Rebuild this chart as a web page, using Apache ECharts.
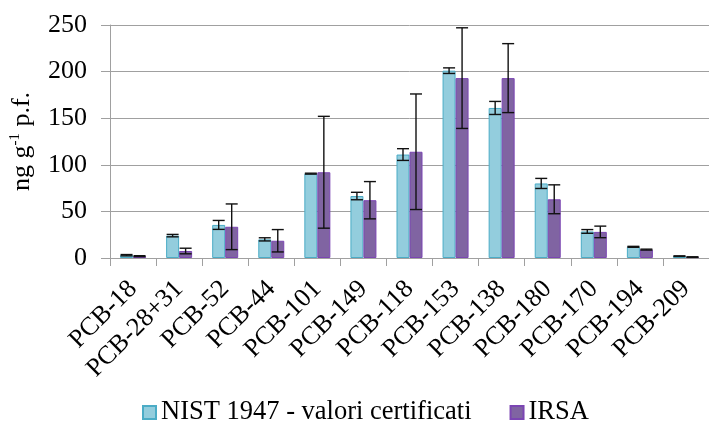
<!DOCTYPE html>
<html>
<head>
<meta charset="utf-8">
<script src="https://cdn.jsdelivr.net/npm/echarts@6/dist/echarts.min.js"></script>
<style>
html,body{margin:0;padding:0;background:#fff;}
#main{width:709px;height:437px;}
</style>
</head>
<body>
<div id="main"></div>
<script>
const categories = ['PCB-18','PCB-28+31','PCB-52','PCB-44','PCB-101','PCB-149','PCB-118','PCB-153','PCB-138','PCB-180','PCB-170','PCB-194','PCB-209'];
const nistValues = [3, 24, 35.5, 20, 90.5, 66.5, 111, 201, 161, 80, 28.5, 12, 2];
const nistErrors = [0.7, 1.3, 4.8, 1.7, 0.5, 4, 6.3, 3, 7, 5.4, 2, 0.5, 0.3];
const irsaValues = [2, 7.5, 33.5, 18.5, 92, 62, 114, 193, 193, 63, 28, 9, 1];
const irsaErrors = [0.5, 3, 24.5, 12, 60, 20, 62, 54, 37, 15.5, 6.2, 0.5, 0.3];
const yTicks = [0, 50, 100, 150, 200, 250];
const seriesNames = ['NIST 1947 - valori certificati', 'IRSA'];

const FONT = '"Liberation Serif", "Times New Roman", serif';
const BAR_W = 13;
const CAP_W = 12;

function errorSeries(values, errors, offset) {
  return {
    type: 'custom',
    z: 10,
    silent: true,
    data: values.map((v, i) => [i, v, errors[i]]),
    renderItem: function (params, api) {
      const i = api.value(0), v = api.value(1), e = api.value(2);
      const hi = api.coord([i, v + e]);
      const lo = api.coord([i, v - e]);
      const x = hi[0] + offset;
      const st = { stroke: '#111', lineWidth: 1.4 };
      return {
        type: 'group',
        children: [
          { type: 'line', shape: { x1: x, y1: hi[1], x2: x, y2: lo[1] }, style: st },
          { type: 'line', shape: { x1: x - CAP_W/2, y1: hi[1], x2: x + CAP_W/2, y2: hi[1] }, style: st },
          { type: 'line', shape: { x1: x - CAP_W/2, y1: lo[1], x2: x + CAP_W/2, y2: lo[1] }, style: st }
        ]
      };
    }
  };
}

const chart = echarts.init(document.getElementById('main'), null, { renderer: 'canvas' });
chart.setOption({
  animation: false,
  backgroundColor: '#fff',
  textStyle: { fontFamily: FONT },
  grid: { left: 109, top: 25, width: 607, height: 233, containLabel: false },
  legend: {
    data: seriesNames,
    left: 137,
    top: 394,
    itemWidth: 13,
    itemHeight: 13,
    itemGap: 38,
    icon: 'rect',
    textStyle: { fontFamily: FONT, fontSize: 26.5, color: '#000', lineHeight: 26 }
  },
  xAxis: {
    type: 'category',
    data: categories,
    boundaryGap: true,
    axisLine: { show: true, lineStyle: { color: '#A0A0A0', width: 1 } },
    axisTick: { show: true, length: 8, lineStyle: { color: '#A0A0A0' } },
    axisLabel: { interval: 0, rotate: 45, margin: 27, fontFamily: FONT, fontSize: 26, color: '#000' }
  },
  yAxis: {
    type: 'value',
    min: 0,
    max: 250,
    interval: 50,
    name: '{a|ng g}{s|-1}{a| p.f.}',
    nameLocation: 'middle',
    nameRotate: 90,
    nameGap: 74,
    nameTextStyle: {
      color: '#000',
      rich: {
        a: { fontFamily: FONT, fontSize: 26, color: '#000', lineHeight: 28 },
        s: { fontFamily: FONT, fontSize: 15, color: '#000', verticalAlign: 'top', lineHeight: 28 }
      }
    },
    axisLine: { show: true, lineStyle: { color: '#A0A0A0', width: 1 } },
    axisTick: { show: true, length: 9, lineStyle: { color: '#A0A0A0' } },
    axisLabel: { margin: 23, fontFamily: FONT, fontSize: 26, color: '#000',
      formatter: v => yTicks.indexOf(v) >= 0 ? String(v) : '' },
    splitLine: { show: true, lineStyle: { color: '#A0A0A0', width: 1 } }
  },
  series: [
    {
      name: seriesNames[0],
      type: 'bar',
      barWidth: BAR_W,
      barGap: '0%',
      data: nistValues,
      itemStyle: { color: '#93CDDD', borderColor: '#4BACC6', borderWidth: 1 }
    },
    {
      name: seriesNames[1],
      type: 'bar',
      barWidth: BAR_W,
      barGap: '0%',
      data: irsaValues,
      itemStyle: { color: '#8064A2', borderColor: '#7B45B3', borderWidth: 1 }
    },
    errorSeries(nistValues, nistErrors, -BAR_W/2),
    errorSeries(irsaValues, irsaErrors, BAR_W/2)
  ]
});
</script>
</body>
</html>
